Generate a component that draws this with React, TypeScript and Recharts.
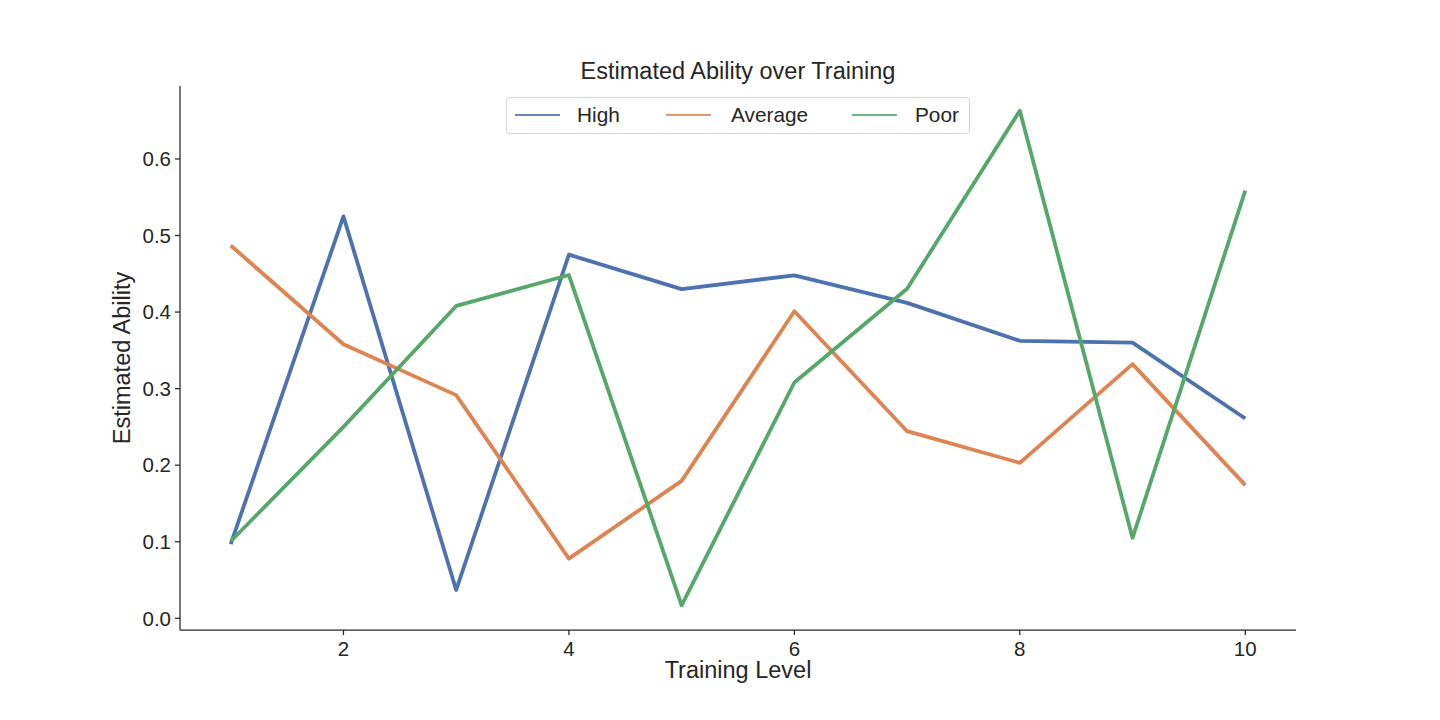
import { LineChart, Line, XAxis, YAxis } from "recharts";

const levels = [1, 2, 3, 4, 5, 6, 7, 8, 9, 10];
const high = [0.097, 0.525, 0.037, 0.475, 0.43, 0.448, 0.412, 0.3625, 0.36, 0.261];
const average = [0.487, 0.358, 0.2915, 0.078, 0.1795, 0.401, 0.2444, 0.203, 0.332, 0.174];
const poor = [0.1006, 0.25, 0.408, 0.4484, 0.017, 0.308, 0.4305, 0.663, 0.105, 0.5586];

const xTicks = [2, 4, 6, 8, 10];
const yTicks = [0, 0.1, 0.2, 0.3, 0.4, 0.5, 0.6];

const series = [
  { key: "high", name: "High", color: "#4C72B0" },
  { key: "average", name: "Average", color: "#DD8452" },
  { key: "poor", name: "Poor", color: "#55A868" },
];

const data = levels.map((level, i) => ({
  level,
  high: high[i],
  average: average[i],
  poor: poor[i],
}));

const FONT = '"Liberation Sans", Arial, sans-serif';
const INK = "#262626";

// legend item offsets (handle start, text start) inside the legend box
const legendSlots = [
  { handle: 8, text: 70 },
  { handle: 159, text: 224 },
  { handle: 345, text: 408 },
];

export default function App() {
  return (
    <div style={{ position: "absolute", left: 0, top: 0, width: 1440, height: 720, background: "#fff", fontFamily: FONT }}>
      <LineChart width={1440} height={720} data={data} margin={{ top: 86, right: 144, bottom: 0, left: 0 }}>
        <XAxis
          type="number"
          dataKey="level"
          domain={[0.55, 10.45]}
          ticks={xTicks}
          allowDataOverflow
          height={90}
          tickSize={5}
          tickMargin={6}
          axisLine={{ stroke: INK, strokeWidth: 1.25 }}
          tickLine={{ stroke: INK, strokeWidth: 1.25 }}
          tick={{ fill: INK, fontSize: 20.5, fontFamily: FONT }}
        />
        <YAxis
          type="number"
          domain={[-0.0153, 0.6953]}
          ticks={yTicks}
          allowDataOverflow
          width={180}
          tickSize={5}
          tickMargin={4}
          tickFormatter={(v: number) => v.toFixed(1)}
          axisLine={{ stroke: INK, strokeWidth: 1.25 }}
          tickLine={{ stroke: INK, strokeWidth: 1.25 }}
          tick={{ fill: INK, fontSize: 20.5, fontFamily: FONT }}
        />
        {series.map((s) => (
          <Line
            key={s.key}
            type="linear"
            dataKey={s.key}
            name={s.name}
            stroke={s.color}
            strokeWidth={3.8}
            strokeLinejoin="round"
            dot={false}
            activeDot={false}
            isAnimationActive={false}
          />
        ))}
      </LineChart>

      <div style={{ position: "absolute", left: 438, top: 57, width: 600, textAlign: "center", fontSize: 23.5, color: INK, lineHeight: "28px" }}>
        Estimated Ability over Training
      </div>
      <div style={{ position: "absolute", left: 438, top: 656, width: 600, textAlign: "center", fontSize: 23.5, color: INK, lineHeight: "28px" }}>
        Training Level
      </div>
      <div
        style={{
          position: "absolute",
          left: 122 - 150,
          top: 358 - 14,
          width: 300,
          textAlign: "center",
          fontSize: 23.5,
          color: INK,
          lineHeight: "28px",
          transform: "rotate(-90deg)",
        }}
      >
        Estimated Ability
      </div>

      <div
        style={{
          position: "absolute",
          left: 506,
          top: 97,
          width: 464,
          height: 37,
          boxSizing: "border-box",
          border: "1px solid #d6d6d6",
          borderRadius: 4,
          background: "rgba(255,255,255,0.8)",
        }}
      >
        {series.map((s, i) => (
          <div key={s.key}>
            <div
              style={{
                position: "absolute",
                left: legendSlots[i].handle,
                top: 16,
                width: 45,
                height: 2,
                background: s.color,
                opacity: 0.85,
              }}
            />
            <div style={{ position: "absolute", left: legendSlots[i].text, top: 4, fontSize: 20.8, lineHeight: "26px", color: INK }}>
              {s.name}
            </div>
          </div>
        ))}
      </div>
    </div>
  );
}
